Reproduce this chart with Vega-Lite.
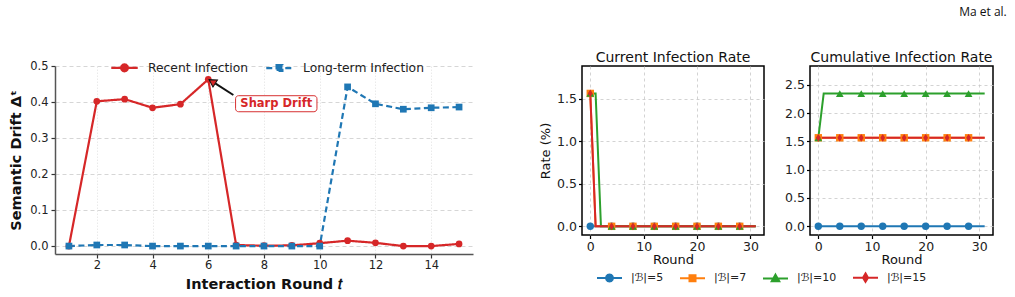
{
  "$schema": "https://vega.github.io/schema/vega-lite/v6.json",
  "background": "white",
  "padding": {"left": 8, "top": 6, "right": 5, "bottom": 2},
  "title": {"text": "Ma et al.", "anchor": "end", "font": "Open Sans", "fontSize": 12, "fontWeight": "normal", "color": "#111", "offset": 31, "dx": 13},
  "config": {
    "font": "DejaVu Sans",
    "view": {"stroke": null},
    "axis": {"labelFont": "DejaVu Sans", "titleFont": "DejaVu Sans", "labelColor": "#222", "titleColor": "#111"},
    "legend": {"labelFont": "DejaVu Sans", "labelColor": "#222", "padding": 0, "titlePadding": 0}
  },
  "datasets": {
    "drift": [
      {"t": 1, "series": "Recent Infection", "drift": 0.0},
      {"t": 2, "series": "Recent Infection", "drift": 0.402},
      {"t": 3, "series": "Recent Infection", "drift": 0.408},
      {"t": 4, "series": "Recent Infection", "drift": 0.384},
      {"t": 5, "series": "Recent Infection", "drift": 0.394},
      {"t": 6, "series": "Recent Infection", "drift": 0.463},
      {"t": 7, "series": "Recent Infection", "drift": 0.003},
      {"t": 8, "series": "Recent Infection", "drift": 0.001},
      {"t": 9, "series": "Recent Infection", "drift": 0.002},
      {"t": 10, "series": "Recent Infection", "drift": 0.008},
      {"t": 11, "series": "Recent Infection", "drift": 0.015},
      {"t": 12, "series": "Recent Infection", "drift": 0.009},
      {"t": 13, "series": "Recent Infection", "drift": 0.0},
      {"t": 14, "series": "Recent Infection", "drift": 0.0},
      {"t": 15, "series": "Recent Infection", "drift": 0.006},
      {"t": 1, "series": "Long-term Infection", "drift": 0.0},
      {"t": 2, "series": "Long-term Infection", "drift": 0.003},
      {"t": 3, "series": "Long-term Infection", "drift": 0.003},
      {"t": 4, "series": "Long-term Infection", "drift": 0.0},
      {"t": 5, "series": "Long-term Infection", "drift": 0.0},
      {"t": 6, "series": "Long-term Infection", "drift": 0.0},
      {"t": 7, "series": "Long-term Infection", "drift": 0.0},
      {"t": 8, "series": "Long-term Infection", "drift": 0.0},
      {"t": 9, "series": "Long-term Infection", "drift": 0.0},
      {"t": 10, "series": "Long-term Infection", "drift": 0.0},
      {"t": 11, "series": "Long-term Infection", "drift": 0.442},
      {"t": 12, "series": "Long-term Infection", "drift": 0.395},
      {"t": 13, "series": "Long-term Infection", "drift": 0.38},
      {"t": 14, "series": "Long-term Infection", "drift": 0.384},
      {"t": 15, "series": "Long-term Infection", "drift": 0.386}
    ],
    "note": [
      {"label": "Sharp Drift", "bx0": 6.98, "bx1": 9.9, "by0": 0.373, "by1": 0.4175, "tx": 8.44, "ty": 0.395, "ax0": 6.9, "ay0": 0.4195, "ax1": 6.25, "ay1": 0.4517, "hx": 6.14, "hy": 0.4567}
    ],
    "rate": [
      {"r":0,"b":"|ℬ|=5","cur":0,"cum":0},{"r":1,"b":"|ℬ|=5","cur":0,"cum":0},{"r":2,"b":"|ℬ|=5","cur":0,"cum":0},{"r":3,"b":"|ℬ|=5","cur":0,"cum":0},
      {"r":4,"b":"|ℬ|=5","cur":0,"cum":0},{"r":5,"b":"|ℬ|=5","cur":0,"cum":0},{"r":6,"b":"|ℬ|=5","cur":0,"cum":0},{"r":7,"b":"|ℬ|=5","cur":0,"cum":0},
      {"r":8,"b":"|ℬ|=5","cur":0,"cum":0},{"r":9,"b":"|ℬ|=5","cur":0,"cum":0},{"r":10,"b":"|ℬ|=5","cur":0,"cum":0},{"r":11,"b":"|ℬ|=5","cur":0,"cum":0},
      {"r":12,"b":"|ℬ|=5","cur":0,"cum":0},{"r":13,"b":"|ℬ|=5","cur":0,"cum":0},{"r":14,"b":"|ℬ|=5","cur":0,"cum":0},{"r":15,"b":"|ℬ|=5","cur":0,"cum":0},
      {"r":16,"b":"|ℬ|=5","cur":0,"cum":0},{"r":17,"b":"|ℬ|=5","cur":0,"cum":0},{"r":18,"b":"|ℬ|=5","cur":0,"cum":0},{"r":19,"b":"|ℬ|=5","cur":0,"cum":0},
      {"r":20,"b":"|ℬ|=5","cur":0,"cum":0},{"r":21,"b":"|ℬ|=5","cur":0,"cum":0},{"r":22,"b":"|ℬ|=5","cur":0,"cum":0},{"r":23,"b":"|ℬ|=5","cur":0,"cum":0},
      {"r":24,"b":"|ℬ|=5","cur":0,"cum":0},{"r":25,"b":"|ℬ|=5","cur":0,"cum":0},{"r":26,"b":"|ℬ|=5","cur":0,"cum":0},{"r":27,"b":"|ℬ|=5","cur":0,"cum":0},
      {"r":28,"b":"|ℬ|=5","cur":0,"cum":0},{"r":29,"b":"|ℬ|=5","cur":0,"cum":0},{"r":30,"b":"|ℬ|=5","cur":0,"cum":0},{"r":31,"b":"|ℬ|=5","cur":0,"cum":0},
      {"r":0,"b":"|ℬ|=7","cur":1.5625,"cum":1.5625},{"r":1,"b":"|ℬ|=7","cur":0,"cum":1.5625},{"r":2,"b":"|ℬ|=7","cur":0,"cum":1.5625},{"r":3,"b":"|ℬ|=7","cur":0,"cum":1.5625},
      {"r":4,"b":"|ℬ|=7","cur":0,"cum":1.5625},{"r":5,"b":"|ℬ|=7","cur":0,"cum":1.5625},{"r":6,"b":"|ℬ|=7","cur":0,"cum":1.5625},{"r":7,"b":"|ℬ|=7","cur":0,"cum":1.5625},
      {"r":8,"b":"|ℬ|=7","cur":0,"cum":1.5625},{"r":9,"b":"|ℬ|=7","cur":0,"cum":1.5625},{"r":10,"b":"|ℬ|=7","cur":0,"cum":1.5625},{"r":11,"b":"|ℬ|=7","cur":0,"cum":1.5625},
      {"r":12,"b":"|ℬ|=7","cur":0,"cum":1.5625},{"r":13,"b":"|ℬ|=7","cur":0,"cum":1.5625},{"r":14,"b":"|ℬ|=7","cur":0,"cum":1.5625},{"r":15,"b":"|ℬ|=7","cur":0,"cum":1.5625},
      {"r":16,"b":"|ℬ|=7","cur":0,"cum":1.5625},{"r":17,"b":"|ℬ|=7","cur":0,"cum":1.5625},{"r":18,"b":"|ℬ|=7","cur":0,"cum":1.5625},{"r":19,"b":"|ℬ|=7","cur":0,"cum":1.5625},
      {"r":20,"b":"|ℬ|=7","cur":0,"cum":1.5625},{"r":21,"b":"|ℬ|=7","cur":0,"cum":1.5625},{"r":22,"b":"|ℬ|=7","cur":0,"cum":1.5625},{"r":23,"b":"|ℬ|=7","cur":0,"cum":1.5625},
      {"r":24,"b":"|ℬ|=7","cur":0,"cum":1.5625},{"r":25,"b":"|ℬ|=7","cur":0,"cum":1.5625},{"r":26,"b":"|ℬ|=7","cur":0,"cum":1.5625},{"r":27,"b":"|ℬ|=7","cur":0,"cum":1.5625},
      {"r":28,"b":"|ℬ|=7","cur":0,"cum":1.5625},{"r":29,"b":"|ℬ|=7","cur":0,"cum":1.5625},{"r":30,"b":"|ℬ|=7","cur":0,"cum":1.5625},{"r":31,"b":"|ℬ|=7","cur":0,"cum":1.5625},
      {"r":0,"b":"|ℬ|=10","cur":1.5625,"cum":1.5625},{"r":1,"b":"|ℬ|=10","cur":1.5625,"cum":2.34375},{"r":2,"b":"|ℬ|=10","cur":0,"cum":2.34375},{"r":3,"b":"|ℬ|=10","cur":0,"cum":2.34375},
      {"r":4,"b":"|ℬ|=10","cur":0,"cum":2.34375},{"r":5,"b":"|ℬ|=10","cur":0,"cum":2.34375},{"r":6,"b":"|ℬ|=10","cur":0,"cum":2.34375},{"r":7,"b":"|ℬ|=10","cur":0,"cum":2.34375},
      {"r":8,"b":"|ℬ|=10","cur":0,"cum":2.34375},{"r":9,"b":"|ℬ|=10","cur":0,"cum":2.34375},{"r":10,"b":"|ℬ|=10","cur":0,"cum":2.34375},{"r":11,"b":"|ℬ|=10","cur":0,"cum":2.34375},
      {"r":12,"b":"|ℬ|=10","cur":0,"cum":2.34375},{"r":13,"b":"|ℬ|=10","cur":0,"cum":2.34375},{"r":14,"b":"|ℬ|=10","cur":0,"cum":2.34375},{"r":15,"b":"|ℬ|=10","cur":0,"cum":2.34375},
      {"r":16,"b":"|ℬ|=10","cur":0,"cum":2.34375},{"r":17,"b":"|ℬ|=10","cur":0,"cum":2.34375},{"r":18,"b":"|ℬ|=10","cur":0,"cum":2.34375},{"r":19,"b":"|ℬ|=10","cur":0,"cum":2.34375},
      {"r":20,"b":"|ℬ|=10","cur":0,"cum":2.34375},{"r":21,"b":"|ℬ|=10","cur":0,"cum":2.34375},{"r":22,"b":"|ℬ|=10","cur":0,"cum":2.34375},{"r":23,"b":"|ℬ|=10","cur":0,"cum":2.34375},
      {"r":24,"b":"|ℬ|=10","cur":0,"cum":2.34375},{"r":25,"b":"|ℬ|=10","cur":0,"cum":2.34375},{"r":26,"b":"|ℬ|=10","cur":0,"cum":2.34375},{"r":27,"b":"|ℬ|=10","cur":0,"cum":2.34375},
      {"r":28,"b":"|ℬ|=10","cur":0,"cum":2.34375},{"r":29,"b":"|ℬ|=10","cur":0,"cum":2.34375},{"r":30,"b":"|ℬ|=10","cur":0,"cum":2.34375},{"r":31,"b":"|ℬ|=10","cur":0,"cum":2.34375},
      {"r":0,"b":"|ℬ|=15","cur":1.5625,"cum":1.5625},{"r":1,"b":"|ℬ|=15","cur":0,"cum":1.5625},{"r":2,"b":"|ℬ|=15","cur":0,"cum":1.5625},{"r":3,"b":"|ℬ|=15","cur":0,"cum":1.5625},
      {"r":4,"b":"|ℬ|=15","cur":0,"cum":1.5625},{"r":5,"b":"|ℬ|=15","cur":0,"cum":1.5625},{"r":6,"b":"|ℬ|=15","cur":0,"cum":1.5625},{"r":7,"b":"|ℬ|=15","cur":0,"cum":1.5625},
      {"r":8,"b":"|ℬ|=15","cur":0,"cum":1.5625},{"r":9,"b":"|ℬ|=15","cur":0,"cum":1.5625},{"r":10,"b":"|ℬ|=15","cur":0,"cum":1.5625},{"r":11,"b":"|ℬ|=15","cur":0,"cum":1.5625},
      {"r":12,"b":"|ℬ|=15","cur":0,"cum":1.5625},{"r":13,"b":"|ℬ|=15","cur":0,"cum":1.5625},{"r":14,"b":"|ℬ|=15","cur":0,"cum":1.5625},{"r":15,"b":"|ℬ|=15","cur":0,"cum":1.5625},
      {"r":16,"b":"|ℬ|=15","cur":0,"cum":1.5625},{"r":17,"b":"|ℬ|=15","cur":0,"cum":1.5625},{"r":18,"b":"|ℬ|=15","cur":0,"cum":1.5625},{"r":19,"b":"|ℬ|=15","cur":0,"cum":1.5625},
      {"r":20,"b":"|ℬ|=15","cur":0,"cum":1.5625},{"r":21,"b":"|ℬ|=15","cur":0,"cum":1.5625},{"r":22,"b":"|ℬ|=15","cur":0,"cum":1.5625},{"r":23,"b":"|ℬ|=15","cur":0,"cum":1.5625},
      {"r":24,"b":"|ℬ|=15","cur":0,"cum":1.5625},{"r":25,"b":"|ℬ|=15","cur":0,"cum":1.5625},{"r":26,"b":"|ℬ|=15","cur":0,"cum":1.5625},{"r":27,"b":"|ℬ|=15","cur":0,"cum":1.5625},
      {"r":28,"b":"|ℬ|=15","cur":0,"cum":1.5625},{"r":29,"b":"|ℬ|=15","cur":0,"cum":1.5625},{"r":30,"b":"|ℬ|=15","cur":0,"cum":1.5625},{"r":31,"b":"|ℬ|=15","cur":0,"cum":1.5625}
    ]
  },
  "bounds": "flush",
  "spacing": 109,
  "resolve": {"scale": {"color": "independent", "strokeDash": "independent", "x": "independent", "y": "independent"}, "legend": {"color": "independent"}},
  "hconcat": [
    {
      "width": 418,
      "height": 188,
      "view": {"stroke": null},
      "data": {"name": "drift"},
      "layer": [
        {
          "mark": {"type": "line", "strokeWidth": 2.2},
          "encoding": {
            "x": {"field": "t", "type": "quantitative", "scale": {"domain": [0.5, 15.5], "nice": false, "zero": false},
              "axis": {"title": "Interaction Round 𝑡", "values": [2, 4, 6, 8, 10, 12, 14], "tickCount": 20, "titleFontSize": 14.5, "titleFontWeight": "bold", "labelFontSize": 11.5, "labelPadding": 1, "titlePadding": 7, "tickSize": 4, "tickColor": "#333", "tickWidth": 1.2, "domainColor": "#555", "domainWidth": 1.5, "grid": true, "gridColor": "#e4e4e4", "gridDash": [1.5, 1.5], "gridWidth": 0.8}},
            "y": {"field": "drift", "type": "quantitative", "scale": {"domain": [-0.022, 0.5], "nice": false, "zero": false},
              "axis": {"title": "Semantic Drift Δᵗ", "values": [0, 0.1, 0.2, 0.3, 0.4, 0.5], "tickCount": 20, "format": ".1f", "titleFontSize": 14.5, "titleFontWeight": "bold", "labelFontSize": 11.5, "labelPadding": 3, "titlePadding": 6, "tickSize": 4, "tickColor": "#333", "tickWidth": 1.2, "domainColor": "#555", "domainWidth": 1.5, "grid": true, "gridColor": "#cccccc", "gridDash": [4, 3], "gridWidth": 0.8}},
            "color": {"field": "series", "type": "nominal", "scale": {"domain": ["Recent Infection", "Long-term Infection"], "range": ["#d62728", "#1f77b4"]},
              "legend": {"orient": "none", "legendX": 55, "legendY": -13, "direction": "horizontal", "title": null, "symbolSize": 700, "symbolStrokeWidth": 2.2, "labelFontSize": 12.3, "labelOffset": 9, "columnPadding": 12,
                "encode": {"symbols": {"update": {
                  "shape": {"signal": "datum.value === 'Recent Infection' ? 'M-1,0L1,0M0.26,0L0.225,0.13L0.13,0.225L0,0.26L-0.13,0.225L-0.225,0.13L-0.26,0L-0.225,-0.13L-0.13,-0.225L0,-0.26L0.13,-0.225L0.225,-0.13Z' : 'M-1,0L1,0M-0.22,-0.22L0.22,-0.22L0.22,0.22L-0.22,0.22Z'"},
                  "fill": {"signal": "datum.value === 'Recent Infection' ? '#d62728' : '#1f77b4'"},
                  "strokeDash": {"signal": "datum.value === 'Recent Infection' ? [1, 0] : [5, 2.5]"}
                }}}}},
            "strokeDash": {"field": "series", "type": "nominal", "scale": {"domain": ["Recent Infection", "Long-term Infection"], "range": [[1, 0], [6, 3.5]]}, "legend": null}
          }
        },
        {
          "transform": [{"filter": "datum.series === 'Recent Infection'"}],
          "mark": {"type": "point", "shape": "circle", "filled": true, "size": 45, "opacity": 1},
          "encoding": {
            "x": {"field": "t", "type": "quantitative"},
            "y": {"field": "drift", "type": "quantitative"},
            "color": {"field": "series", "type": "nominal"}
          }
        },
        {
          "transform": [{"filter": "datum.series === 'Long-term Infection'"}],
          "mark": {"type": "point", "shape": "square", "filled": true, "size": 45, "opacity": 1},
          "encoding": {
            "x": {"field": "t", "type": "quantitative"},
            "y": {"field": "drift", "type": "quantitative"},
            "color": {"field": "series", "type": "nominal"}
          }
        },
        {
          "data": {"name": "note"},
          "mark": {"type": "rect", "fill": "white", "stroke": "#d62728", "strokeWidth": 1, "cornerRadius": 3, "opacity": 0.95},
          "encoding": {
            "x": {"field": "bx0", "type": "quantitative"}, "x2": {"field": "bx1"},
            "y": {"field": "by0", "type": "quantitative"}, "y2": {"field": "by1"}
          }
        },
        {
          "data": {"name": "note"},
          "mark": {"type": "rule", "stroke": "#111", "strokeWidth": 2},
          "encoding": {
            "x": {"field": "ax0", "type": "quantitative"}, "x2": {"field": "ax1"},
            "y": {"field": "ay0", "type": "quantitative"}, "y2": {"field": "ay1"}
          }
        },
        {
          "data": {"name": "note"},
          "mark": {"type": "point", "shape": "triangle-up", "size": 70, "filled": true, "fill": "#d62728", "stroke": "#111", "strokeWidth": 1, "opacity": 1, "angle": 302.5},
          "encoding": {
            "x": {"field": "hx", "type": "quantitative"},
            "y": {"field": "hy", "type": "quantitative"}
          }
        },
        {
          "data": {"name": "note"},
          "mark": {"type": "text", "font": "DejaVu Sans", "fontWeight": "bold", "fontSize": 11.5, "color": "#d62728", "align": "center", "baseline": "middle"},
          "encoding": {
            "x": {"field": "tx", "type": "quantitative"},
            "y": {"field": "ty", "type": "quantitative"},
            "text": {"field": "label"}
          }
        }
      ]
    },
    {
      "bounds": "flush",
      "spacing": 46,
      "resolve": {"scale": {"color": "independent", "x": "independent", "y": "independent"}, "legend": {"color": "independent"}},
      "hconcat": [
        {
          "width": 182,
          "height": 169,
          "title": {"text": "Current Infection Rate", "fontSize": 14, "fontWeight": "normal", "color": "#111", "offset": 1},
          "view": {"stroke": "#000", "strokeWidth": 1.5},
          "data": {"name": "rate"},
          "encoding": {
            "x": {"field": "r", "type": "quantitative", "scale": {"domain": [-1.55, 32.55], "nice": false, "zero": false},
              "axis": {"title": "Round", "values": [0, 10, 20, 30], "tickCount": 20, "titleFontSize": 13, "titleFontWeight": "normal", "labelFontSize": 12.5, "labelPadding": 2, "titlePadding": 0, "tickSize": 3.5, "tickColor": "#000", "tickWidth": 1.2, "domain": false, "grid": true, "gridColor": "#c8c8c8", "gridDash": [3, 3], "gridWidth": 0.8}},
            "y": {"field": "cur", "type": "quantitative", "scale": {"domain": [-0.102, 1.885], "nice": false, "zero": false},
              "axis": {"title": "Rate (%)", "values": [0, 0.5, 1, 1.5], "tickCount": 20, "format": ".1f", "titleFontSize": 13, "titleFontWeight": "normal", "labelFontSize": 12.5, "labelPadding": 2, "titlePadding": 4, "tickSize": 3.5, "tickColor": "#000", "tickWidth": 1.2, "domain": false, "grid": true, "gridColor": "#c8c8c8", "gridDash": [3, 3], "gridWidth": 0.8}},
            "color": {"field": "b", "type": "nominal", "scale": {"domain": ["|ℬ|=5", "|ℬ|=7", "|ℬ|=10", "|ℬ|=15"], "range": ["#1f77b4", "#ff7f0e", "#2ca02c", "#d62728"]},
              "legend": {"orient": "none", "legendX": 14, "legendY": 198, "direction": "horizontal", "title": null, "symbolSize": 625, "symbolStrokeWidth": 2, "labelFontSize": 11, "labelOffset": 8, "columnPadding": 12,
                "encode": {"symbols": {"update": {
                  "shape": {"signal": "datum.value === '|ℬ|=5' ? 'M-1,0L1,0M0.28,0L0.242,0.14L0.14,0.242L0,0.28L-0.14,0.242L-0.242,0.14L-0.28,0L-0.242,-0.14L-0.14,-0.242L0,-0.28L0.14,-0.242L0.242,-0.14Z' : datum.value === '|ℬ|=7' ? 'M-1,0L1,0M-0.24,-0.24L0.24,-0.24L0.24,0.24L-0.24,0.24Z' : datum.value === '|ℬ|=10' ? 'M-1,0L1,0M0,-0.3L0.3,0.22L-0.3,0.22Z' : 'M-1,0L1,0M0,-0.34L0.2,0L0,0.34L-0.2,0Z'"},
                  "fill": {"signal": "datum.value === '|ℬ|=5' ? '#1f77b4' : datum.value === '|ℬ|=7' ? '#ff7f0e' : datum.value === '|ℬ|=10' ? '#2ca02c' : '#d62728'"}
                }}}}}
          },
          "layer": [
            {"mark": {"type": "line", "strokeWidth": 2}},
            {"transform": [{"filter": "datum.b === '|ℬ|=5' && datum.r % 4 === 0"}], "mark": {"type": "point", "shape": "circle", "filled": true, "size": 55, "opacity": 1}},
            {"transform": [{"filter": "datum.b === '|ℬ|=7' && datum.r % 4 === 0"}], "mark": {"type": "point", "shape": "square", "filled": true, "size": 55, "opacity": 1}},
            {"transform": [{"filter": "datum.b === '|ℬ|=10' && datum.r % 4 === 0"}], "mark": {"type": "point", "shape": "triangle-up", "filled": true, "size": 60, "opacity": 1}},
            {"transform": [{"filter": "datum.b === '|ℬ|=15' && datum.r % 4 === 0"}], "mark": {"type": "point", "shape": "M0,-1L0.62,0L0,1L-0.62,0Z", "filled": true, "size": 60, "opacity": 1}}
          ]
        },
        {
          "width": 183,
          "height": 169,
          "title": {"text": "Cumulative Infection Rate", "fontSize": 14, "fontWeight": "normal", "color": "#111", "offset": 1},
          "view": {"stroke": "#000", "strokeWidth": 1.5},
          "data": {"name": "rate"},
          "encoding": {
            "x": {"field": "r", "type": "quantitative", "scale": {"domain": [-1.55, 32.55], "nice": false, "zero": false},
              "axis": {"title": "Round", "values": [0, 10, 20, 30], "tickCount": 20, "titleFontSize": 13, "titleFontWeight": "normal", "labelFontSize": 12.5, "labelPadding": 2, "titlePadding": 0, "tickSize": 3.5, "tickColor": "#000", "tickWidth": 1.2, "domain": false, "grid": true, "gridColor": "#c8c8c8", "gridDash": [3, 3], "gridWidth": 0.8}},
            "y": {"field": "cum", "type": "quantitative", "scale": {"domain": [-0.154, 2.83], "nice": false, "zero": false},
              "axis": {"title": null, "values": [0, 0.5, 1, 1.5, 2, 2.5], "tickCount": 20, "format": ".1f", "labelFontSize": 12.5, "labelPadding": 2, "tickSize": 3.5, "tickColor": "#000", "tickWidth": 1.2, "domain": false, "grid": true, "gridColor": "#c8c8c8", "gridDash": [3, 3], "gridWidth": 0.8}},
            "color": {"field": "b", "type": "nominal", "scale": {"domain": ["|ℬ|=5", "|ℬ|=7", "|ℬ|=10", "|ℬ|=15"], "range": ["#1f77b4", "#ff7f0e", "#2ca02c", "#d62728"]}, "legend": null}
          },
          "layer": [
            {"mark": {"type": "line", "strokeWidth": 2}},
            {"transform": [{"filter": "datum.b === '|ℬ|=5' && datum.r % 4 === 0"}], "mark": {"type": "point", "shape": "circle", "filled": true, "size": 55, "opacity": 1}},
            {"transform": [{"filter": "datum.b === '|ℬ|=7' && datum.r % 4 === 0"}], "mark": {"type": "point", "shape": "square", "filled": true, "size": 55, "opacity": 1}},
            {"transform": [{"filter": "datum.b === '|ℬ|=10' && datum.r % 4 === 0"}], "mark": {"type": "point", "shape": "triangle-up", "filled": true, "size": 60, "opacity": 1}},
            {"transform": [{"filter": "datum.b === '|ℬ|=15' && datum.r % 4 === 0"}], "mark": {"type": "point", "shape": "M0,-1L0.62,0L0,1L-0.62,0Z", "filled": true, "size": 60, "opacity": 1}}
          ]
        }
      ]
    }
  ]
}
